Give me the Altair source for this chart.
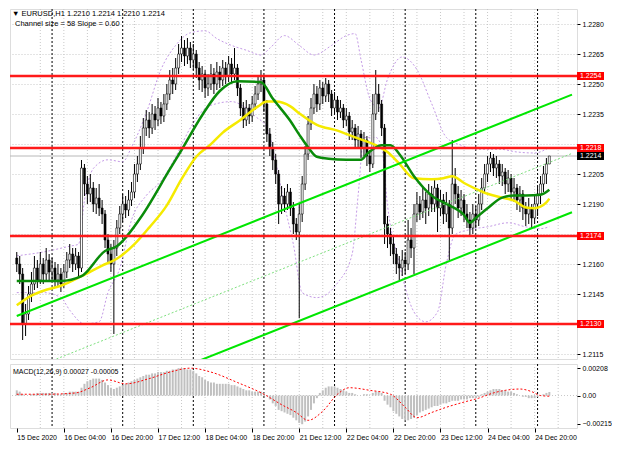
import altair as alt
import pandas as pd

FONT = "Liberation Sans"
W = 567
H_TOP = 350
H_BOT = 64

title_lines = ["\u25bc EURUSD,H1  1.2210 1.2214 1.2210 1.2214", "Channel size = 58 Slope = 0.60"]
macd_title = ["MACD(12,26,9) 0.00027 -0.00005"]

bar_open = [
1.2163, 1.2160, 1.2155, 1.2130, 1.2135, 1.2145, 1.2150, 1.2158, 1.2152, 1.2160,
1.2155, 1.2162, 1.2156, 1.2158, 1.2152, 1.2155, 1.2150, 1.2156, 1.2162, 1.2165,
1.2160, 1.2164, 1.2158, 1.2208, 1.2200, 1.2195, 1.2198, 1.2190, 1.2193, 1.2188,
1.2185, 1.2172, 1.2165, 1.2160, 1.2168, 1.2178, 1.2185, 1.2190, 1.2187, 1.2192,
1.2196, 1.2205, 1.2210, 1.2218, 1.2228, 1.2232, 1.2228, 1.2235, 1.2232, 1.2238,
1.2234, 1.2240, 1.2245, 1.2252, 1.2250, 1.2258, 1.2265, 1.2268, 1.2264, 1.2268,
1.2262, 1.2265, 1.2258, 1.2252, 1.2255, 1.2248, 1.2250, 1.2255, 1.2250, 1.2256,
1.2252, 1.2258, 1.2254, 1.2260, 1.2255, 1.2258, 1.2248, 1.2238, 1.2232, 1.2238,
1.2234, 1.2240, 1.2245, 1.2250, 1.2252, 1.2240, 1.2225, 1.2218, 1.2212, 1.2205,
1.2190, 1.2194, 1.2190, 1.2196, 1.2188, 1.2180, 1.2176, 1.2185, 1.2200, 1.2215,
1.2230, 1.2238, 1.2245, 1.2240, 1.2248, 1.2244, 1.2250, 1.2245, 1.2238, 1.2242,
1.2236, 1.2238, 1.2232, 1.2234, 1.2226, 1.2228, 1.2222, 1.2225, 1.2218, 1.2222,
1.2214, 1.2210, 1.2235, 1.2245, 1.2240, 1.2228, 1.2180, 1.2175, 1.2170, 1.2165,
1.2160, 1.2158, 1.2162, 1.2160, 1.2172, 1.2168, 1.2185, 1.2190, 1.2186, 1.2192,
1.2188, 1.2195, 1.2190, 1.2198, 1.2188, 1.2192, 1.2185, 1.2190, 1.2178, 1.2200,
1.2195, 1.2188, 1.2192, 1.2185, 1.2182, 1.2178, 1.2185, 1.2182, 1.2190, 1.2198,
1.2205, 1.2210, 1.2213, 1.2208, 1.2210, 1.2204, 1.2206, 1.2200, 1.2203, 1.2196,
1.2198, 1.2192, 1.2195, 1.2188, 1.2185, 1.2188, 1.2183, 1.2190, 1.2195, 1.2200,
1.2205, 1.2210]

bar_high = [
1.2166, 1.2164, 1.2158, 1.2140, 1.2149, 1.2156, 1.2164, 1.2162, 1.2166, 1.2163,
1.2168, 1.2165, 1.2163, 1.2161, 1.2160, 1.2158, 1.2160, 1.2166, 1.2170, 1.2168,
1.2168, 1.2166, 1.2212, 1.2210, 1.2204, 1.2205, 1.2201, 1.2198, 1.2200, 1.2192,
1.2187, 1.2175, 1.2170, 1.2172, 1.2182, 1.2189, 1.2195, 1.2194, 1.2197, 1.2201,
1.2210, 1.2214, 1.2224, 1.2233, 1.2237, 1.2236, 1.2240, 1.2239, 1.2243, 1.2241,
1.2245, 1.2250, 1.2257, 1.2258, 1.2263, 1.2270, 1.2274, 1.2272, 1.2273, 1.2271,
1.2270, 1.2267, 1.2261, 1.2259, 1.2257, 1.2255, 1.2260, 1.2258, 1.2261, 1.2259,
1.2262, 1.2261, 1.2264, 1.2263, 1.2268, 1.2260, 1.2250, 1.2241, 1.2242, 1.2240,
1.2244, 1.2249, 1.2254, 1.2257, 1.2254, 1.2242, 1.2228, 1.2221, 1.2215, 1.2207,
1.2199, 1.2198, 1.2200, 1.2198, 1.2191, 1.2183, 1.2190, 1.2204, 1.2219, 1.2234,
1.2243, 1.2250, 1.2249, 1.2252, 1.2251, 1.2253, 1.2252, 1.2247, 1.2246, 1.2244,
1.2242, 1.2240, 1.2238, 1.2236, 1.2232, 1.2230, 1.2229, 1.2227, 1.2226, 1.2224,
1.2217, 1.2245, 1.2257, 1.2250, 1.2242, 1.2230, 1.2184, 1.2178, 1.2174, 1.2168,
1.2164, 1.2167, 1.2166, 1.2182, 1.2178, 1.2190, 1.2196, 1.2194, 1.2198, 1.2196,
1.2200, 1.2199, 1.2203, 1.2200, 1.2197, 1.2195, 1.2196, 1.2192, 1.2222, 1.2208,
1.2199, 1.2197, 1.2195, 1.2190, 1.2186, 1.2190, 1.2189, 1.2195, 1.2203, 1.2210,
1.2214, 1.2216, 1.2215, 1.2214, 1.2212, 1.2210, 1.2208, 1.2207, 1.2205, 1.2203,
1.2200, 1.2199, 1.2197, 1.2191, 1.2193, 1.2190, 1.2194, 1.2199, 1.2204, 1.2209,
1.2213, 1.2214]

bar_low = [
1.2156, 1.2150, 1.2122, 1.2124, 1.2132, 1.2141, 1.2147, 1.2148, 1.2150, 1.2150,
1.2152, 1.2152, 1.2151, 1.2148, 1.2149, 1.2146, 1.2148, 1.2153, 1.2158, 1.2156,
1.2157, 1.2154, 1.2156, 1.2194, 1.2190, 1.2191, 1.2186, 1.2185, 1.2184, 1.2180,
1.2168, 1.2161, 1.2156, 1.2125, 1.2164, 1.2175, 1.2181, 1.2183, 1.2184, 1.2189,
1.2193, 1.2201, 1.2207, 1.2215, 1.2224, 1.2223, 1.2225, 1.2227, 1.2229, 1.2230,
1.2231, 1.2237, 1.2242, 1.2245, 1.2247, 1.2255, 1.2261, 1.2259, 1.2260, 1.2258,
1.2257, 1.2253, 1.2247, 1.2246, 1.2243, 1.2244, 1.2247, 1.2245, 1.2247, 1.2248,
1.2249, 1.2250, 1.2251, 1.2251, 1.2252, 1.2244, 1.2234, 1.2228, 1.2229, 1.2230,
1.2231, 1.2237, 1.2242, 1.2246, 1.2236, 1.2221, 1.2214, 1.2207, 1.2200, 1.2180,
1.2185, 1.2186, 1.2187, 1.2184, 1.2175, 1.2172, 1.2133, 1.2181, 1.2197, 1.2212,
1.2227, 1.2235, 1.2236, 1.2237, 1.2240, 1.2241, 1.2241, 1.2234, 1.2235, 1.2232,
1.2233, 1.2228, 1.2229, 1.2222, 1.2222, 1.2218, 1.2218, 1.2213, 1.2214, 1.2209,
1.2206, 1.2208, 1.2232, 1.2236, 1.2224, 1.2170, 1.2168, 1.2164, 1.2160, 1.2155,
1.2152, 1.2154, 1.2155, 1.2157, 1.2163, 1.2155, 1.2181, 1.2182, 1.2183, 1.2180,
1.2184, 1.2186, 1.2186, 1.2176, 1.2184, 1.2180, 1.2181, 1.2162, 1.2175, 1.2190,
1.2183, 1.2184, 1.2181, 1.2178, 1.2174, 1.2175, 1.2178, 1.2179, 1.2187, 1.2195,
1.2201, 1.2206, 1.2204, 1.2203, 1.2200, 1.2199, 1.2195, 1.2196, 1.2192, 1.2191,
1.2187, 1.2186, 1.2182, 1.2179, 1.2180, 1.2178, 1.2180, 1.2184, 1.2190, 1.2196,
1.2200, 1.2210]

bar_close = [
1.2160, 1.2155, 1.2130, 1.2135, 1.2145, 1.2150, 1.2158, 1.2152, 1.2160, 1.2155,
1.2162, 1.2156, 1.2158, 1.2152, 1.2155, 1.2150, 1.2156, 1.2162, 1.2165, 1.2160,
1.2164, 1.2158, 1.2208, 1.2200, 1.2195, 1.2198, 1.2190, 1.2193, 1.2188, 1.2185,
1.2172, 1.2165, 1.2160, 1.2168, 1.2178, 1.2185, 1.2190, 1.2187, 1.2192, 1.2196,
1.2205, 1.2210, 1.2218, 1.2228, 1.2232, 1.2228, 1.2235, 1.2232, 1.2238, 1.2234,
1.2240, 1.2245, 1.2252, 1.2250, 1.2258, 1.2265, 1.2268, 1.2264, 1.2268, 1.2262,
1.2265, 1.2258, 1.2252, 1.2255, 1.2248, 1.2250, 1.2255, 1.2250, 1.2256, 1.2252,
1.2258, 1.2254, 1.2260, 1.2255, 1.2258, 1.2248, 1.2238, 1.2232, 1.2238, 1.2234,
1.2240, 1.2245, 1.2250, 1.2252, 1.2240, 1.2225, 1.2218, 1.2212, 1.2205, 1.2190,
1.2194, 1.2190, 1.2196, 1.2188, 1.2180, 1.2176, 1.2185, 1.2200, 1.2215, 1.2230,
1.2238, 1.2245, 1.2240, 1.2248, 1.2244, 1.2250, 1.2245, 1.2238, 1.2242, 1.2236,
1.2238, 1.2232, 1.2234, 1.2226, 1.2228, 1.2222, 1.2225, 1.2218, 1.2222, 1.2214,
1.2210, 1.2235, 1.2245, 1.2240, 1.2228, 1.2180, 1.2175, 1.2170, 1.2165, 1.2160,
1.2158, 1.2162, 1.2160, 1.2172, 1.2168, 1.2185, 1.2190, 1.2186, 1.2192, 1.2188,
1.2195, 1.2190, 1.2198, 1.2188, 1.2192, 1.2185, 1.2190, 1.2178, 1.2200, 1.2195,
1.2188, 1.2192, 1.2185, 1.2182, 1.2178, 1.2185, 1.2182, 1.2190, 1.2198, 1.2205,
1.2210, 1.2213, 1.2208, 1.2210, 1.2204, 1.2206, 1.2200, 1.2203, 1.2196, 1.2198,
1.2192, 1.2195, 1.2188, 1.2185, 1.2188, 1.2183, 1.2190, 1.2195, 1.2200, 1.2205,
1.2210, 1.2214]

macd_hist = [
0.0004, 0.0003, 0.0001, 0.0000, 0.0000, 0.0001, 0.0001, 0.0002,
0.0002, 0.0002, 0.0002, 0.0002, 0.0002, 0.0002, 0.0001, 0.0001, 0.0002, 0.0002, 0.0003, 0.0003, 0.0003, 0.0003, 0.0006,
0.0009, 0.0011, 0.0012, 0.0013, 0.0013, 0.0013, 0.0012, 0.0010, 0.0008,
0.0006, 0.0005, 0.0006, 0.0007, 0.0008,
0.0009, 0.0010, 0.0011, 0.0012, 0.0013, 0.0014, 0.0015, 0.0016, 0.0016, 0.0017, 0.0017, 0.0018, 0.0018, 0.0018,
0.0019, 0.0019, 0.0020, 0.0020, 0.0021, 0.0021, 0.0021, 0.0020, 0.0020, 0.0019,
0.0017, 0.0015, 0.0014, 0.0012, 0.0011, 0.0010, 0.0010, 0.0009, 0.0009, 0.0009,
0.0009, 0.0009, 0.0008, 0.0008, 0.0007, 0.0006, 0.0005, 0.0004, 0.0004, 0.0003, 0.0003, 0.0003, 0.0003,
0.0002, 0.0000, -0.0003, -0.0006, -0.0008, -0.0011, -0.0012, -0.0013, -0.0014, -0.0015, -0.0017, -0.0019, -0.0021, -0.0022, -0.0020, -0.0016, -0.0011,
-0.0006, -0.0002, 0.0002, 0.0004, 0.0006, 0.0007, 0.0007, 0.0007, 0.0006, 0.0005,
0.0004, 0.0003, 0.0002, 0.0002, 0.0001, 0.0000, 0.0000, 0.0001, 0.0001, 0.0000, 0.0002, 0.0003, 0.0003, 0.0002,
-0.0004, -0.0007, -0.0009, -0.0012, -0.0014, -0.0016, -0.0018, -0.0019, -0.0019, -0.0018, -0.0017, -0.0015, -0.0013, -0.0012, -0.0011, -0.0010,
-0.0009, -0.0008, -0.0008, -0.0007, -0.0006, -0.0006, -0.0005, -0.0004, -0.0004, -0.0004, -0.0003, -0.0003, -0.0003, -0.0002, -0.0002, -0.0002, -0.0001,
0.0001, 0.0002, 0.0003, 0.0004, 0.0005, 0.0005, 0.0005, 0.0004, 0.0004, 0.0003, 0.0003, 0.0002, 0.0001, 0.0000,
-0.0001, -0.0001, -0.0002, -0.0002, -0.0002, -0.0001, 0.0000, 0.0001, 0.0002, 0.00027]

signal_idx = [0, 10, 20, 25, 31, 37, 45, 52, 59, 66, 75, 84, 90, 95, 99, 104, 109, 113, 120, 127,
              132, 136, 141, 146, 152, 157, 162, 166, 171, 175, 178, 181]
signal_val = [0.0001, 0.0001, 0.0002, 0.0006, 0.0012, 0.0009, 0.0013, 0.0018, 0.0021, 0.0018,
              0.0010, 0.0001, -0.0007, -0.0013, -0.0019, -0.0012, 0.0001, 0.0006, 0.0004, 0.0001,
              -0.0009, -0.0017, -0.0013, -0.0009, -0.0005, -0.0002, 0.0002, 0.0004, 0.0005, 0.0003,
              0.0000, -0.00005]

ma_green_idx = [0, 15, 22, 30, 34, 42, 52, 56, 63, 69, 75, 83, 87, 93, 96, 99, 102, 106, 112, 117,
                119, 124, 127, 130, 135, 141, 147, 152, 154, 156, 160, 165, 169, 173, 178, 181]
ma_green_val = [1.21515, 1.21515, 1.21539, 1.21665, 1.21689, 1.21830, 1.22073, 1.22170, 1.22344, 1.22465,
                1.22514, 1.22509, 1.22427, 1.22315, 1.22247, 1.22184, 1.22136, 1.22126, 1.22121, 1.22121,
                1.22150, 1.22194, 1.22194, 1.22150, 1.22039, 1.21942, 1.21893, 1.21845, 1.21806, 1.21830,
                1.21879, 1.21932, 1.21942, 1.21942, 1.21946, 1.21971]

ma_yellow_idx = [0, 5, 10, 15, 22, 29, 34, 40, 45, 51, 56, 61, 66, 70, 76, 82, 85, 88, 93, 96,
                 102, 109, 115, 122, 126, 130, 135, 141, 145, 148, 152, 156, 160, 165, 169, 173, 176, 180, 181]
ma_yellow_val = [1.21394, 1.21442, 1.21471, 1.21491, 1.21539, 1.21592, 1.21626, 1.21699, 1.21782, 1.21893,
                 1.22024, 1.22136, 1.22199, 1.22257, 1.22320, 1.22388, 1.22412, 1.22412, 1.22388, 1.22354,
                 1.22296, 1.22267, 1.22233, 1.22194, 1.22160, 1.22102, 1.22029, 1.22024, 1.22029, 1.22039,
                 1.22005, 1.21976, 1.21951, 1.21932, 1.21917, 1.21883, 1.21879, 1.21908, 1.21927]

bb_up_idx = [0, 9, 18, 21, 23, 26, 31, 36, 39, 44, 49, 54, 59, 64, 68, 73, 78, 83, 86, 91,
             96, 101, 107, 112, 115, 117, 120, 123, 126, 131, 136, 141, 146, 151, 157, 164, 170, 176, 181]
bb_up_val = [1.21641, 1.21660, 1.21689, 1.21699, 1.21917, 1.22077, 1.22121, 1.22111, 1.22184, 1.22354,
             1.22572, 1.22693, 1.22756, 1.22766, 1.22727, 1.22693, 1.22669, 1.22645, 1.22679, 1.22742,
             1.22693, 1.22645, 1.22693, 1.22742, 1.22752, 1.22621, 1.22427, 1.22378, 1.22524, 1.22635,
             1.22572, 1.22402, 1.22233, 1.22194, 1.22174, 1.22174, 1.22160, 1.22155, 1.22184]

bb_lo_idx = [0, 9, 15, 18, 23, 28, 31, 35, 39, 44, 49, 54, 59, 64, 68, 73, 78, 81, 85, 88,
             91, 94, 97, 102, 109, 114, 116, 118, 122, 124, 126, 130, 135, 139, 143, 146, 149, 154, 160,
             167, 173, 178, 181]
bb_lo_val = [1.21457, 1.21457, 1.21432, 1.21369, 1.21301, 1.21311, 1.21457, 1.21578, 1.21820, 1.21942,
             1.22014, 1.22136, 1.22281, 1.22378, 1.22402, 1.22412, 1.22378, 1.22339, 1.22281, 1.22111,
             1.21893, 1.21699, 1.21457, 1.21432, 1.21505, 1.21651, 1.21942, 1.22233, 1.22233, 1.22184,
             1.21893, 1.21602, 1.21360, 1.21311, 1.21360, 1.21602, 1.21747, 1.21772, 1.21786,
             1.21806, 1.21786, 1.21777, 1.21786]

chan_up_idx = [0, 188.7]
chan_up_val = [1.21340, 1.22447]
chan_mid_idx = [9.7, 188.7]
chan_mid_val = [1.21103, 1.22153]
chan_lo_idx = [59.7, 188.7]
chan_lo_val = [1.21103, 1.21859]

level_prices = [1.2254, 1.2218, 1.2174, 1.2130]
level_labels = ["1.2254", "1.2218", "1.2174", "1.2130"]
bid_price = [1.2214]
bid_label = ["1.2214"]

price_ticks = [1.2115, 1.2130, 1.2145, 1.2160, 1.2175, 1.2190, 1.2205, 1.2220, 1.2235, 1.2250, 1.2265, 1.2280]
hidden_price_labels = ["1.2130", "1.2175", "1.2220"]
macd_ticks = [0.00208, 0.0, -0.00215]

time_tick_idx = [0, 16, 32, 48, 64, 80, 96, 112, 128, 144, 160, 176]
time_tick_labels = ["15 Dec 2020", "16 Dec 04:00", "16 Dec 20:00", "17 Dec 12:00", "18 Dec 04:00",
                    "18 Dec 20:00", "21 Dec 12:00", "22 Dec 04:00", "22 Dec 20:00", "23 Dec 12:00",
                    "24 Dec 04:00", "24 Dec 20:00"]
day_sep_idx = [12, 36, 60, 84, 108, 132, 156, 177]
grid_idx = [8, 16, 24, 32, 40, 48, 56, 64, 72, 80, 88, 96, 104, 112, 120, 128, 136, 144,
            152, 160, 168, 176, 184]

# ---------------------------------------------------------------
n = len(bar_close)
candles = pd.DataFrame({"i": list(range(n)), "o": bar_open, "h": bar_high,
                        "l": bar_low, "c": bar_close})
candles["fill"] = ["#ffffff" if c >= o else "#000000" for o, c in zip(bar_open, bar_close)]

ys = alt.Scale(domain=[1.21125, 1.22875], nice=False, zero=False)
xs = alt.Scale(domain=[-0.6, 188.7], nice=False, zero=False)
ms = alt.Scale(domain=[-0.00249, 0.00242], nice=False, zero=False)

hide_js = "[" + ",".join("'%s'" % s for s in hidden_price_labels) + "]"
price_axis = alt.Axis(orient="right", values=price_ticks, title=None,
                      labelExpr="indexof(" + hide_js + ", format(datum.value, '.4f')) >= 0 ? '' : format(datum.value, '.4f')",
                      grid=True, gridColor="#c8c8c8", gridDash=[1, 2], gridWidth=1,
                      tickSize=3, tickColor="#000000", domain=False, labelFont=FONT,
                      labelFontSize=7, labelColor="#000000", labelPadding=2, zindex=0)
macd_axis = alt.Axis(orient="right", values=macd_ticks, title=None, grid=False,
                     labelExpr="datum.value == 0 ? '0.00' : format(datum.value, '.5f')",
                     tickSize=3, tickColor="#000000", domain=False, labelFont=FONT,
                     labelFontSize=7, labelColor="#000000", labelPadding=2, zindex=0)
lab_js = "[" + ",".join("'%s'" % s for s in time_tick_labels) + "]"
time_axis = alt.Axis(values=time_tick_idx, title=None, grid=False, domain=False,
                     labelExpr=lab_js + "[round(datum.value / 16)]",
                     tickSize=4, tickColor="#000000", labelAlign="left", labelPadding=1,
                     labelFont=FONT, labelFontSize=7, labelColor="#000000",
                     labelFlush=False, labelOverlap=False, zindex=0)

X0 = alt.X("i:Q", scale=xs, axis=None)
XB = alt.X("i:Q", scale=xs, axis=time_axis)


def lines_df(idx, vals):
    return pd.DataFrame({"i": idx, "p": vals})


BB_COLOR = "#c49ae6"

# ---------------- top panel ----------------
vgrid = alt.Chart(pd.DataFrame({"i": grid_idx})).mark_rule(
    color="#c8c8c8", strokeDash=[1, 2], strokeWidth=1).encode(x=X0)
seps = alt.Chart(pd.DataFrame({"i": day_sep_idx})).mark_rule(
    color="#000000", strokeDash=[2, 2], strokeWidth=1).encode(x=X0)

Yp = alt.Y("p:Q", scale=ys, axis=price_axis)

bb_up = alt.Chart(lines_df(bb_up_idx, bb_up_val)).mark_line(
    color=BB_COLOR, strokeDash=[2, 2], strokeWidth=1, clip=True,
    interpolate="monotone").encode(x=X0, y=Yp)
bb_lo = alt.Chart(lines_df(bb_lo_idx, bb_lo_val)).mark_line(
    color=BB_COLOR, strokeDash=[2, 2], strokeWidth=1, clip=True,
    interpolate="monotone").encode(x=X0, y=Yp)

bid_line = alt.Chart(pd.DataFrame({"p": bid_price})).mark_rule(
    color="#b8b8b8", strokeWidth=1).encode(y=Yp)

wick = alt.Chart(candles).mark_rule(color="#000000", strokeWidth=1, clip=True).encode(
    x=X0, y=alt.Y("l:Q", scale=ys, axis=price_axis), y2="h:Q")
body = alt.Chart(candles).mark_bar(size=2, stroke="#000000", strokeWidth=0.6, clip=True).encode(
    x=X0, y=alt.Y("o:Q", scale=ys, axis=price_axis), y2="c:Q",
    fill=alt.Fill("fill:N", scale=None))

ma_y = alt.Chart(lines_df(ma_yellow_idx, ma_yellow_val)).mark_line(
    color="#f5ea00", strokeWidth=2.5, interpolate="monotone").encode(x=X0, y=Yp)
ma_g = alt.Chart(lines_df(ma_green_idx, ma_green_val)).mark_line(
    color="#0a8c0a", strokeWidth=2.5, interpolate="monotone").encode(x=X0, y=Yp)

ch_up = alt.Chart(lines_df(chan_up_idx, chan_up_val)).mark_line(
    color="#00e600", strokeWidth=2, clip=True).encode(x=X0, y=Yp)
ch_lo = alt.Chart(lines_df(chan_lo_idx, chan_lo_val)).mark_line(
    color="#00e600", strokeWidth=2, clip=True).encode(x=X0, y=Yp)
ch_mid = alt.Chart(lines_df(chan_mid_idx, chan_mid_val)).mark_line(
    color="#7ee07e", strokeWidth=1, strokeDash=[2, 2], clip=True).encode(x=X0, y=Yp)

levels = alt.Chart(pd.DataFrame({"p": level_prices})).mark_rule(
    color="#ff1a1a", strokeWidth=2.5).encode(y=Yp)

lab_df = pd.DataFrame({"p": level_prices + bid_price, "t": level_labels + bid_label,
                       "bg": ["#ff0000"] * len(level_prices) + ["#000000"]})
lab_box = alt.Chart(lab_df).mark_rect(height=8).encode(
    x=alt.value(W), x2=alt.value(W + 27), y=Yp, fill=alt.Fill("bg:N", scale=None))
lab_txt = alt.Chart(lab_df).mark_text(align="left", baseline="middle", font=FONT,
                                      fontSize=7, color="#ffffff").encode(
    x=alt.value(W + 3), y=Yp, text="t:N")

ttl_df = pd.DataFrame({"t": title_lines, "k": [0, 1]})
ttl0 = alt.Chart(ttl_df.iloc[[0]]).mark_text(align="left", baseline="top", font=FONT,
                                             fontSize=7.5, color="#000000").encode(
    x=alt.value(2), y=alt.value(1), text="t:N")
ttl1 = alt.Chart(ttl_df.iloc[[1]]).mark_text(align="left", baseline="top", font=FONT,
                                             fontSize=7.5, color="#000000").encode(
    x=alt.value(5), y=alt.value(11), text="t:N")

top = alt.layer(vgrid, seps, bb_up, bb_lo, bid_line, wick, body, ma_y, ma_g,
                ch_mid, ch_up, ch_lo, levels, lab_box, lab_txt, ttl0, ttl1).properties(
    width=W, height=H_TOP)

# ---------------- MACD panel ----------------
hist_df = pd.DataFrame({"i": list(range(len(macd_hist))), "v": macd_hist})
sig_df = pd.DataFrame({"i": signal_idx, "v": signal_val})
Ym = alt.Y("v:Q", scale=ms, axis=macd_axis)

vgrid_b = alt.Chart(pd.DataFrame({"i": grid_idx})).mark_rule(
    color="#c8c8c8", strokeDash=[1, 2], strokeWidth=1).encode(x=XB)
seps_b = alt.Chart(pd.DataFrame({"i": day_sep_idx})).mark_rule(
    color="#000000", strokeDash=[2, 2], strokeWidth=1).encode(x=XB)
zero_b = alt.Chart(pd.DataFrame({"v": [0.0]})).mark_rule(
    color="#c8c8c8", strokeDash=[1, 2], strokeWidth=1).encode(y=Ym)
hist = alt.Chart(hist_df).mark_bar(size=2, color="#c0c0c0").encode(
    x=XB, y=Ym, y2=alt.datum(0))
sig = alt.Chart(sig_df).mark_line(color="#ff0000", strokeDash=[2, 2], strokeWidth=1,
                                  interpolate="monotone").encode(x=XB, y=Ym)
mttl = alt.Chart(pd.DataFrame({"t": macd_title})).mark_text(
    align="left", baseline="top", font=FONT, fontSize=7, color="#000000").encode(
    x=alt.value(3), y=alt.value(4), text="t:N")

bot = alt.layer(vgrid_b, seps_b, zero_b, hist, sig, mttl).properties(width=W, height=H_BOT)

chart = alt.vconcat(top, bot, spacing=3).properties(
    padding={"left": 0, "top": 0, "right": 0, "bottom": 0}).configure_view(
    stroke="#000000", strokeWidth=1).configure(background="#ffffff", font=FONT)

chart.save("out.html", embed_options={"renderer": "svg", "actions": False})
